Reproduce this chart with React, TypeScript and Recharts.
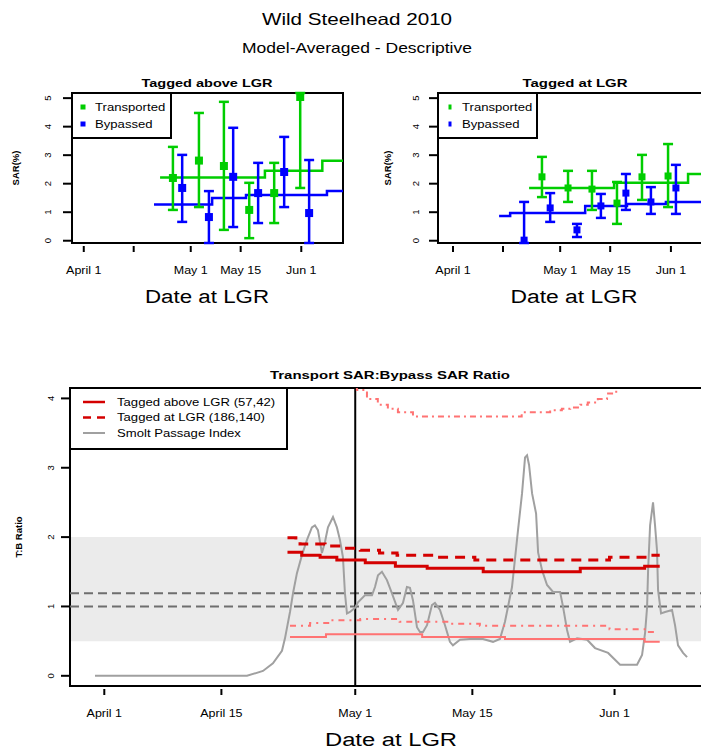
import React from "react";
import {
  ComposedChart,
  Line,
  Scatter,
  ErrorBar,
  XAxis,
  YAxis,
  ReferenceArea,
  ReferenceLine,
  Legend,
} from "recharts";

const FONT = "'Liberation Sans', Arial, Helvetica, sans-serif";
const SX = 1.25; // the picture is a little stretched sideways
const GREEN = "#00cd00";
const BLUE = "#0000ff";
const RED = "#d40000";
const PINK = "#ff7373";
const GREY = "#a0a0a0";

// x values are days after April 1
const tickDays = [0, 14, 30, 44, 61];
const tickNamesTop = ["April 1", "", "May 1", "May 15", "Jun 1"];
const tickNamesBottom = ["April 1", "April 15", "May 1", "May 15", "Jun 1"];
const sarTicks = [0, 1, 2, 3, 4, 5];
const ratioTicks = [0, 1, 2, 3, 4];

// Tagged above LGR
const aboveTransDay = [25.0, 32.3, 39.3, 46.4, 53.4, 60.7];
const aboveTransSar = [2.2, 2.81, 2.62, 1.08, 1.67, 5.04];
const aboveTransLo = [1.08, 1.18, 0.38, 0.09, 0.62, 1.85];
const aboveTransHi = [3.29, 4.48, 4.87, 2.03, 2.73, 5.18];
const aboveBypDay = [27.6, 35.1, 41.9, 48.9, 56.2, 63.2];
const aboveBypSar = [1.85, 0.83, 2.24, 1.67, 2.41, 0.97];
const aboveBypLo = [0.66, -0.08, 0.48, 0.62, 1.18, -0.08];
const aboveBypHi = [3.01, 1.74, 3.96, 2.73, 3.64, 2.83];
const aboveTransFitDay = [21.4, 50.8, 66.9, 72.7];
const aboveTransFitSar = [2.22, 2.45, 2.8, 2.8];
const aboveBypFitDay = [19.7, 36.0, 45.5, 68.2, 72.7];
const aboveBypFitSar = [1.27, 1.5, 1.6, 1.74, 1.74];

// Tagged at LGR
const atTransDay = [24.9, 32.2, 38.9, 45.9, 52.9, 60.2];
const atTransSar = [2.24, 1.85, 1.81, 1.32, 2.24, 2.27];
const atTransLo = [1.53, 1.36, 1.08, 0.59, 1.43, 1.18];
const atTransHi = [2.94, 2.45, 2.45, 2.06, 3.01, 3.39];
const atBypDay = [19.9, 27.2, 34.7, 41.4, 48.4, 55.4, 62.4];
const atBypSar = [0.02, 1.15, 0.38, 1.22, 1.67, 1.36, 1.85];
const atBypLo = [-0.08, 0.66, 0.13, 0.8, 1.08, 0.94, 0.94];
const atBypHi = [1.36, 1.67, 0.59, 1.64, 2.34, 1.88, 2.66];
const atTransFitDay = [21.3, 45.1, 65.8, 71.8];
const atTransFitSar = [1.85, 2.03, 2.34, 2.34];
const atBypFitDay = [12.9, 16.0, 37.0, 48.7, 59.6, 71.8];
const atBypFitSar = [0.87, 0.97, 1.22, 1.29, 1.36, 1.36];

// T:B ratio
const aboveRatioDay = [21.9, 23.6, 25.8, 27.8, 31.2, 34.8, 38.6, 45.3, 56.9, 64.6, 66.4];
const aboveRatio = [1.78, 1.74, 1.71, 1.67, 1.63, 1.58, 1.55, 1.5, 1.55, 1.58, 1.58];
const atRatioDay = [21.9, 22.9, 23.4, 26.4, 28.2, 30.6, 32.9, 35.0, 39.5, 44.3, 60.4, 65.0, 66.4];
const atRatio = [1.99, 1.94, 1.9, 1.87, 1.84, 1.81, 1.77, 1.74, 1.71, 1.67, 1.71, 1.74, 1.74];
const aboveLowDay = [22.2, 26.5, 38.0, 47.9, 64.6, 66.4];
const aboveLow = [0.56, 0.6, 0.56, 0.53, 0.49, 0.49];
const atLowDay = [22.2, 24.6, 27.0, 30.6, 35.3, 41.3, 44.9, 60.4, 64.6, 65.8];
const atLow = [0.72, 0.76, 0.8, 0.82, 0.78, 0.75, 0.72, 0.67, 0.63, 0.63];
const upperDay = [21.9, 25.8, 28.8, 30.2, 31.4, 32.7, 33.9, 35.1, 36.9, 49.9, 53.3, 54.7, 55.7, 56.9, 57.8, 59.0, 60.1, 61.2, 62.6, 64.6, 66.4];
const upper = [4.8, 4.5, 4.25, 4.12, 3.99, 3.91, 3.85, 3.8, 3.74, 3.8, 3.83, 3.85, 3.87, 3.91, 3.94, 3.99, 4.07, 4.2, 4.35, 4.55, 4.55];

// smolt passage index
const passageDay = [
  -1.11, 17.06, 18.97, 20.16, 21.24, 21.6, 22.2, 22.56, 23.03, 23.63, 24.23, 24.82, 25.18, 25.54, 26.02,
  26.38, 26.74, 27.34, 27.81, 28.17, 28.53, 28.77, 29.01, 29.37, 29.97, 30.33, 31.16, 32.0, 32.36, 32.72,
  33.19, 33.79, 34.39, 35.11, 35.7, 36.18, 36.54, 36.9, 37.38, 37.74, 38.1, 38.58, 39.17, 39.53, 40.13,
  40.73, 41.32, 41.68, 42.52, 43.72, 45.27, 46.47, 47.3, 47.9, 48.74, 49.46, 49.94, 50.3, 50.54, 50.78,
  51.14, 51.62, 51.86, 52.34, 52.93, 53.65, 54.49, 54.85, 55.32, 55.68, 56.52, 57.72, 58.67, 60.23, 61.66,
  63.69, 64.29, 64.65, 64.89, 65.01, 65.25, 65.6, 65.84, 66.08, 66.2, 66.56, 67.04, 67.87, 68.23, 68.59,
  69.19, 69.67,
];
const passage = [
  0, 0, 0.07, 0.18, 0.36, 0.54, 0.92, 1.19, 1.48, 1.74, 1.96, 2.14, 2.17, 2.1, 1.77,
  1.93, 2.14, 2.29, 2.14, 1.96, 1.71, 1.19, 0.9, 0.92, 0.98, 1.06, 1.16, 1.16, 1.28, 1.45,
  1.5, 1.38, 1.19, 0.95, 1.05, 1.28, 1.27, 1.09, 0.7, 0.63, 0.63, 0.73, 1.02, 1.05, 0.95,
  0.73, 0.49, 0.44, 0.52, 0.53, 0.53, 0.49, 0.53, 0.78, 1.28, 2.1, 2.63, 3.15, 3.18, 3.04,
  2.63, 2.34, 1.78, 1.52, 1.31, 1.21, 1.21, 0.99, 0.66, 0.49, 0.54, 0.52, 0.4, 0.33, 0.16,
  0.16, 0.3, 0.62, 0.99, 1.52, 2.17, 2.5, 2.17, 1.8, 1.24, 0.9, 0.92, 0.95, 0.73, 0.44,
  0.33, 0.27,
];

const thresholds = [1, 1.19];

const rows = (day: number[], val: number[]) => day.map((d, i) => ({ d, v: val[i] }));
const withErr = (day: number[], val: number[], lo: number[], hi: number[]) =>
  day.map((d, i) => ({ d, v: val[i], err: [val[i] - lo[i], hi[i] - val[i]] }));

const dashOf: Record<string, string | undefined> = {
  "Tagged above LGR (57,42)": undefined,
  "Tagged at LGR (186,140)": "8 6",
  "Smolt Passage Index": undefined,
};
const ratioLegendOrder = ["Tagged above LGR (57,42)", "Tagged at LGR (186,140)", "Smolt Passage Index"];
const sarLegendOrder = ["Transported", "Bypassed"];

// keep only the named series, in the order given
const pick = (payload: any[] | undefined, order: string[]) =>
  (payload || [])
    .filter((e: any) => e.type !== "none" && order.includes(e.value))
    .sort((a: any, b: any) => order.indexOf(a.value) - order.indexOf(b.value));

function SText(props: any) {
  const { x, y, size, weight, len, anchor = "middle", children } = props;
  if (len) {
    return (
      <text x={x} y={y} textLength={len} lengthAdjust="spacingAndGlyphs" textAnchor={anchor}
        dominantBaseline="central" fontSize={size} fontWeight={weight} fontFamily={FONT} fill="#000">
        {children}
      </text>
    );
  }
  return (
    <text transform={`translate(${x},${y}) scale(${SX},1)`} textAnchor={anchor} dominantBaseline="central"
      fontSize={size} fontWeight={weight} fontFamily={FONT} fill="#000">
      {children}
    </text>
  );
}

function VText(props: any) {
  return (
    <text transform={`translate(${props.x},${props.y}) rotate(-90)`} textAnchor="middle" dominantBaseline="central"
      fontSize={9.5} fontWeight="bold" fontFamily={FONT} fill="#000">
      {props.children}
    </text>
  );
}

function DayTick(props: any) {
  const { x, y, payload, names } = props;
  const label = names[tickDays.indexOf(payload.value)] || "";
  return (
    <g>
      <line x1={x} x2={x} y1={y + 3} y2={y + 9} stroke="#000" strokeWidth={2} />
      {label ? <SText x={x} y={y + 27} size={10}>{label}</SText> : null}
    </g>
  );
}

function ValTick(props: any) {
  const { x, y, payload, off } = props;
  return (
    <g>
      <line x1={x - 9} x2={x} y1={y} y2={y} stroke="#000" strokeWidth={2} />
      <text transform={`translate(${x - off},${y}) rotate(-90)`} textAnchor="middle" dominantBaseline="central"
        fontSize={9.5} fontFamily={FONT} fill="#000">
        {payload.value}
      </text>
    </g>
  );
}

const square = (s: number, c: string) => (p: any) =>
  <rect x={p.cx - s / 2} y={p.cy - s / 2} width={s} height={s} fill={c} />;

function SarLegend(props: any) {
  const { payload, mx, tx, mw, mh } = props;
  return (
    <div style={{ width: 101, height: 47, border: "2px solid #000", background: "#fff", boxSizing: "border-box" }}>
      <svg width={97} height={43} style={{ display: "block" }}>
        {pick(payload, sarLegendOrder).map((e: any, i: number) => (
          <g key={e.value}>
            <rect x={mx - mw / 2} y={13 + i * 17 - mh / 2} width={mw} height={mh} fill={e.color} />
            <SText x={tx} y={13 + i * 17} size={10.5} anchor="start">{e.value}</SText>
          </g>
        ))}
      </svg>
    </div>
  );
}

function RatioLegend(props: any) {
  return (
    <div style={{ width: 219, height: 63, border: "2px solid #000", background: "#fff", boxSizing: "border-box" }}>
      <svg width={215} height={59} style={{ display: "block" }}>
        {pick(props.payload, ratioLegendOrder).map((e: any, i: number) => (
          <g key={e.value}>
            <line x1={12} x2={34} y1={13 + i * 15.5} y2={13 + i * 15.5} stroke={e.color}
              strokeWidth={e.color === GREY ? 2 : 2.5} strokeDasharray={dashOf[e.value]} />
            <SText x={46} y={13 + i * 15.5} size={10.5} anchor="start">{e.value}</SText>
          </g>
        ))}
      </svg>
    </div>
  );
}

const SAR_DOMAIN: [number, number] = [-0.08, 5.18];

function SarPanel(props: any) {
  const { left, axisW, rightM, xDomain, trans, byp, transFit, bypFit, pt, legendLeft, mark } = props;
  return (
    <div style={{ position: "absolute", left, top: 0 }}>
      <ComposedChart width={360} height={320} margin={{ top: 93, right: rightM, bottom: 76, left: 0 }}>
        <XAxis dataKey="d" type="number" domain={xDomain} allowDataOverflow ticks={tickDays} interval={0}
          height={1} axisLine={false} tickLine={false} tickSize={0} tickMargin={0}
          tick={<DayTick names={tickNamesTop} />} />
        <YAxis dataKey="v" type="number" domain={SAR_DOMAIN} allowDataOverflow ticks={sarTicks} interval={0}
          width={axisW} axisLine={false} tickLine={false} tickSize={0} tickMargin={0}
          tick={<ValTick off={axisW === 72 ? 25 : 23} />} />
        <Line data={transFit} dataKey="v" type="stepAfter" stroke={GREEN} strokeWidth={2.5} dot={false}
          legendType="none" isAnimationActive={false} />
        <Line data={bypFit} dataKey="v" type="stepAfter" stroke={BLUE} strokeWidth={2.5} dot={false}
          legendType="none" isAnimationActive={false} />
        <Scatter name="Transported" data={trans} dataKey="v" fill={GREEN} shape={square(pt, GREEN)} isAnimationActive={false}>
          <ErrorBar dataKey="err" direction="y" width={5} stroke={GREEN} strokeWidth={2.5} />
        </Scatter>
        <Scatter name="Bypassed" data={byp} dataKey="v" fill={BLUE} shape={square(pt, BLUE)} isAnimationActive={false}>
          <ErrorBar dataKey="err" direction="y" width={5} stroke={BLUE} strokeWidth={2.5} />
        </Scatter>
        <ReferenceArea x1={xDomain[0]} x2={xDomain[1]} y1={SAR_DOMAIN[0]} y2={SAR_DOMAIN[1]} fill="none"
          stroke="#000" strokeWidth={2} ifOverflow="visible" />
        <Legend layout="vertical" align="center" verticalAlign="middle"
          wrapperStyle={{ left: legendLeft, top: 92, width: 101, height: 47 }}
          content={(p: any) => <SarLegend payload={p.payload} {...mark} />} />
      </ComposedChart>
    </div>
  );
}

const RATIO_X: [number, number] = [-4.1, 72.65];
const RATIO_Y: [number, number] = [-0.147, 4.15];

function RatioPanel() {
  return (
    <div style={{ position: "absolute", left: 0, top: 340 }}>
      <ComposedChart width={720} height={412} margin={{ top: 48, right: 8, bottom: 65, left: 0 }}>
        <XAxis dataKey="d" type="number" domain={RATIO_X} allowDataOverflow ticks={tickDays} interval={0}
          height={1} axisLine={false} tickLine={false} tickSize={0} tickMargin={0}
          tick={<DayTick names={tickNamesBottom} />} />
        <YAxis dataKey="v" type="number" domain={RATIO_Y} allowDataOverflow ticks={ratioTicks} interval={0}
          width={70} axisLine={false} tickLine={false} tickSize={0} tickMargin={0}
          tick={<ValTick off={20} />} />
        <ReferenceArea x1={RATIO_X[0]} x2={RATIO_X[1]} y1={0.5} y2={2} fill="#ebebeb" fillOpacity={1}
          stroke="none" ifOverflow="visible" />
        {thresholds.map((t) => (
          <ReferenceLine key={t} y={t} stroke="#6e6e6e" strokeWidth={2} strokeDasharray="9 5" />
        ))}
        <ReferenceLine x={30} stroke="#000" strokeWidth={2} />
        <Line name="Smolt Passage Index" data={rows(passageDay, passage)} dataKey="v" type="linear" stroke={GREY}
          strokeWidth={2} dot={false} isAnimationActive={false} />
        <Line data={rows(upperDay, upper)} dataKey="v" type="stepAfter" stroke={PINK} strokeWidth={2}
          strokeDasharray="6 4 2 4" dot={false} legendType="none" isAnimationActive={false} />
        <Line data={rows(atLowDay, atLow)} dataKey="v" type="stepAfter" stroke={PINK} strokeWidth={2}
          strokeDasharray="6 5 2 5" dot={false} legendType="none" isAnimationActive={false} />
        <Line data={rows(aboveLowDay, aboveLow)} dataKey="v" type="stepAfter" stroke={PINK} strokeWidth={2}
          dot={false} legendType="none" isAnimationActive={false} />
        <Line name="Tagged at LGR (186,140)" data={rows(atRatioDay, atRatio)} dataKey="v" type="stepAfter"
          stroke={RED} strokeWidth={3} strokeDasharray="10 7" dot={false} isAnimationActive={false} />
        <Line name="Tagged above LGR (57,42)" data={rows(aboveRatioDay, aboveRatio)} dataKey="v" type="stepAfter"
          stroke={RED} strokeWidth={3} dot={false} isAnimationActive={false} />
        <ReferenceArea x1={RATIO_X[0]} x2={RATIO_X[1]} y1={RATIO_Y[0]} y2={RATIO_Y[1]} fill="none"
          stroke="#000" strokeWidth={2} ifOverflow="visible" />
        <Legend layout="vertical" align="center" verticalAlign="middle"
          wrapperStyle={{ left: 69, top: 47, width: 219, height: 63 }}
          content={(p: any) => <RatioLegend payload={p.payload} />} />
      </ComposedChart>
    </div>
  );
}

function Labels() {
  return (
    <svg width={701} height={752} style={{ position: "absolute", left: 0, top: 0, pointerEvents: "none" }}>
      <SText x={357} y={19} size={16.5}>Wild Steelhead 2010</SText>
      <SText x={357} y={48} size={14}>Model-Averaged - Descriptive</SText>
      <SText x={207} y={83} size={10.5} weight="bold" len={131}>Tagged above LGR</SText>
      <SText x={575} y={83} size={10.5} weight="bold" len={105}>Tagged at LGR</SText>
      <SText x={390} y={375} size={10.5} weight="bold" len={240}>Transport SAR:Bypass SAR Ratio</SText>
      <SText x={207} y={297} size={18} len={124}>Date at LGR</SText>
      <SText x={574} y={297} size={18} len={127}>Date at LGR</SText>
      <SText x={391} y={740} size={18} len={132}>Date at LGR</SText>
      <VText x={15} y={168}>SAR(%)</VText>
      <VText x={387} y={168}>SAR(%)</VText>
      <VText x={18} y={537}>T:B Ratio</VText>
    </svg>
  );
}

export default function App() {
  return (
    <div style={{ position: "absolute", left: 0, top: 0, width: 701, height: 752, overflow: "hidden", background: "#fff", fontFamily: FONT }}>
      <SarPanel left={0} axisW={72} rightM={17} xDomain={[-3.3, 72.7]}
        trans={withErr(aboveTransDay, aboveTransSar, aboveTransLo, aboveTransHi)}
        byp={withErr(aboveBypDay, aboveBypSar, aboveBypLo, aboveBypHi)}
        transFit={rows(aboveTransFitDay, aboveTransFitSar)} bypFit={rows(aboveBypFitDay, aboveBypFitSar)}
        pt={8} legendLeft={71} mark={{ mx: 10, tx: 22, mw: 5, mh: 5 }} />
      <SarPanel left={360} axisW={78} rightM={8} xDomain={[-4.2, 72.5]}
        trans={withErr(atTransDay, atTransSar, atTransLo, atTransHi)}
        byp={withErr(atBypDay, atBypSar, atBypLo, atBypHi)}
        transFit={rows(atTransFitDay, atTransFitSar)} bypFit={rows(atBypFitDay, atBypFitSar)}
        pt={7} legendLeft={77} mark={{ mx: 11, tx: 23, mw: 3, mh: 5 }} />
      <RatioPanel />
      <Labels />
    </div>
  );
}
